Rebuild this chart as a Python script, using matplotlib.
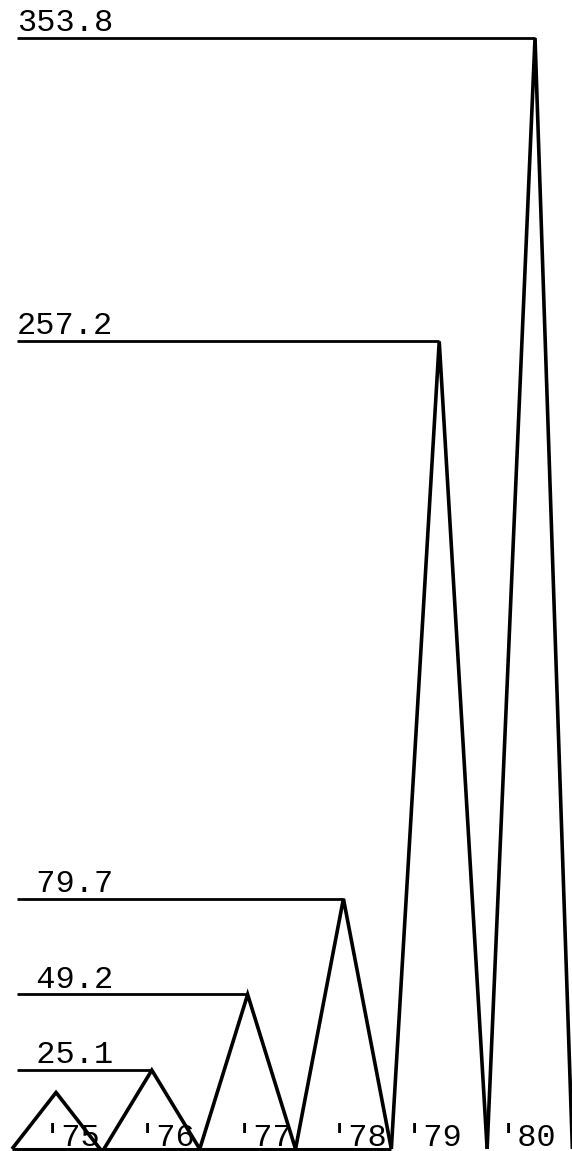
import matplotlib
matplotlib.use("Agg")
import matplotlib.pyplot as plt

# Annual values drawn as spikes; the first year carries no value label
years = ["'75", "'76", "'77", "'78", "'79", "'80"]
values = [18.0, 25.1, 49.2, 79.7, 257.2, 353.8]
labelled = [False, True, True, True, True, True]

fig = plt.figure(figsize=(5.72, 11.51), dpi=100)
ax = fig.add_axes([0, 0, 1, 1])
ax.set_xlim(-0.585, 5.386)
ax.set_ylim(-0.64, 365.9)
ax.axis("off")

mono = "Liberation Mono"
# left / right half-widths of each spike's base
half_left = [0.46, 0.5, 0.5, 0.5, 0.5, 0.5]
half_right = [0.46, 0.5, 0.5, 0.5, 0.5, 0.39]
line_left = -0.407

for i, (v, lab) in enumerate(zip(values, labelled)):
    ax.plot([i - half_left[i], i, i + half_right[i]], [0, v, 0], color="black",
            lw=2.6, solid_joinstyle="miter", solid_capstyle="butt")
    if lab:
        ax.plot([line_left, i], [v, v], color="black", lw=2.0,
                solid_capstyle="butt")
        ax.annotate(f"{v:5.1f}", xy=(line_left, v), xytext=(0, 5),
                    textcoords="offset points", ha="left", va="baseline",
                    fontsize=23, family=mono, color="black")

# common base under the first four spikes
ax.plot([-half_left[0], 3 + half_right[3]], [0, 0], color="black", lw=2.2,
        solid_capstyle="butt")

# year labels sit inside each spike, near the base
year_dx = [-0.14, -0.15, -0.13, -0.14, -0.36, -0.38]
for i, (yr, dx) in enumerate(zip(years, year_dx)):
    ax.text(i + dx, 1.0, yr, ha="left", va="baseline", fontsize=23,
            family=mono, color="black")

fig.savefig("out.png", dpi=100)
